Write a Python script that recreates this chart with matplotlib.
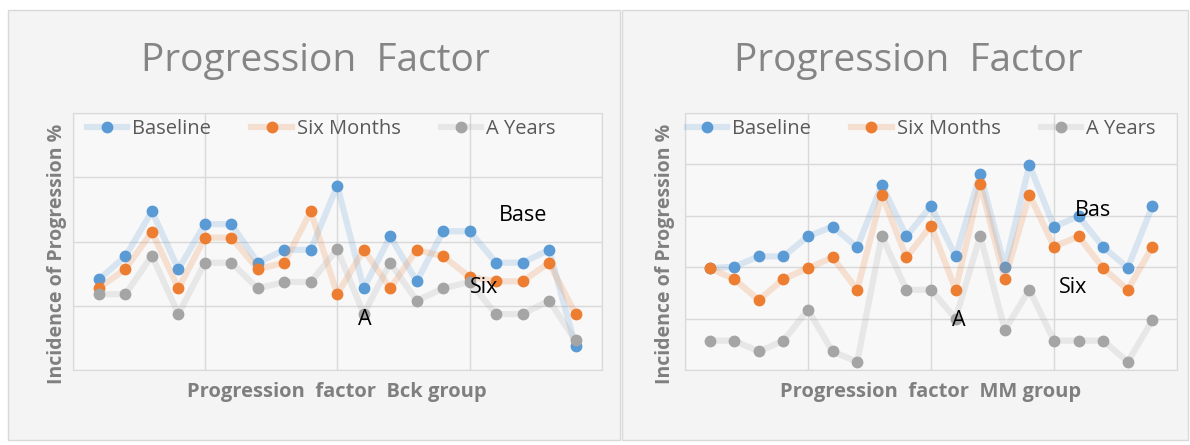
import matplotlib
matplotlib.use("Agg")
import matplotlib.pyplot as plt
from matplotlib.patches import Rectangle

# data (percent)
points = list(range(1, 20))

bck_baseline = [14.1, 17.7, 24.7, 15.7, 22.7, 22.7, 16.7, 18.7, 18.7, 28.7,
                12.7, 20.8, 13.8, 21.6, 21.6, 16.7, 16.7, 18.7, 3.7]
bck_six = [12.8, 15.7, 21.5, 12.7, 20.6, 20.6, 15.7, 16.7, 24.7, 11.8,
           18.7, 12.7, 18.7, 17.7, 14.5, 13.8, 13.8, 16.7, 8.7]
bck_years = [11.8, 11.8, 17.8, 8.7, 16.7, 16.7, 12.7, 13.7, 13.7, 18.8,
             8.7, 16.7, 10.8, 12.7, 13.7, 8.7, 8.7, 10.8, 4.6]

mm_baseline = [19.8, 20.1, 22.1, 22.1, 26.0, 27.9, 23.9, 36.0, 26.0, 31.9,
               22.1, 38.1, 20.1, 39.9, 27.9, 29.9, 23.9, 19.9, 31.9]
mm_six = [19.8, 17.7, 13.6, 17.7, 19.8, 21.9, 15.6, 34.1, 21.9, 28.1,
          15.6, 36.2, 17.7, 34.1, 24.0, 26.0, 19.8, 15.6, 24.0]
mm_years = [5.7, 5.7, 3.6, 5.7, 11.7, 3.6, 1.6, 26.1, 15.6, 15.6,
            10.0, 26.1, 7.8, 15.6, 5.7, 5.7, 5.7, 1.6, 9.7]

series_names = ["Baseline", "Six Months", "A Years"]
colors = ["#5B9BD5", "#ED7D31", "#A5A5A5"]

fig = plt.figure(figsize=(11.9, 4.45), dpi=100)
fig.patch.set_facecolor("white")

# chart area panels
fig.patches.append(Rectangle((8 / 1190, 5 / 445), 612 / 1190, 430 / 445,
                             transform=fig.transFigure, facecolor="#f4f4f4",
                             edgecolor="#d9d9d9", lw=1, zorder=-10))
fig.patches.append(Rectangle((622 / 1190, 5 / 445), 566 / 1190, 430 / 445,
                             transform=fig.transFigure, facecolor="#f4f4f4",
                             edgecolor="#d9d9d9", lw=1, zorder=-10))


def draw(rect, data, ytop, xlabel, notes, title_x, ylab_x, leg_x):
    ax = fig.add_axes(rect)
    ax.set_facecolor("#f8f8f8")
    handles = []
    for vals, name, c in zip(data, series_names, colors):
        ln, = ax.plot(points, vals, color=c, lw=4.5, alpha=0.2,
                      solid_joinstyle="round")
        mk, = ax.plot(points, vals, "o", color=c, ms=7.5, label=name)
        handles.append((ln, mk))
    ax.set_xlim(0, 20)
    ax.set_ylim(0, ytop)
    ax.set_xticks(range(0, 21, 5))
    ax.set_yticks(range(0, ytop + 1, 10))
    ax.tick_params(length=0, labelbottom=False, labelleft=False)
    ax.grid(True, color="#d9d9d9", lw=1)
    for s in ax.spines.values():
        s.set_color("#d9d9d9")
    ax.set_axisbelow(True)
    for txt, x, y in notes:
        ax.text(x, y, txt, fontsize=15.5, color="black", family="Open Sans",
                va="center", ha="left")
    ax.legend(handles, series_names, loc="upper center", ncol=3, frameon=False,
              bbox_to_anchor=(leg_x, 1.015), labelcolor="#595959",
              handlelength=2.0, columnspacing=2.0, handletextpad=0.25,
              borderpad=0, prop={"family": "Open Sans", "size": 14.5})
    ax.set_xlabel(xlabel, fontsize=14.5, fontweight="bold", color="#7f7f7f",
                  family="Open Sans", labelpad=9)
    fig.text(title_x, 0.862, "Progression  Factor", fontsize=28,
             color="#858585", family="Open Sans", ha="center", va="center")
    fig.text(ylab_x, 0.43, "Incidence of Progression %", fontsize=14,
             fontweight="bold", color="#7f7f7f", family="Open Sans",
             rotation=90, ha="center", va="center")
    return ax


draw([72.5 / 1190, 75 / 445, 529.5 / 1190, 257 / 445],
     [bck_baseline, bck_six, bck_years], 40,
     "Progression  factor  Bck group",
     [("Base", 16.1, 24.0), ("Six", 15.0, 12.9), ("A", 10.8, 7.8)],
     315 / 1190, 57 / 1190, 0.47)

draw([685 / 1190, 75 / 445, 492 / 1190, 257 / 445],
     [mm_baseline, mm_six, mm_years], 50,
     "Progression  factor  MM group",
     [("Bas", 15.85, 31.1), ("Six", 15.2, 16.1), ("A", 10.85, 9.7)],
     908 / 1190, 665 / 1190, 0.48)

fig.savefig("out.png", dpi=100, facecolor=fig.get_facecolor())
